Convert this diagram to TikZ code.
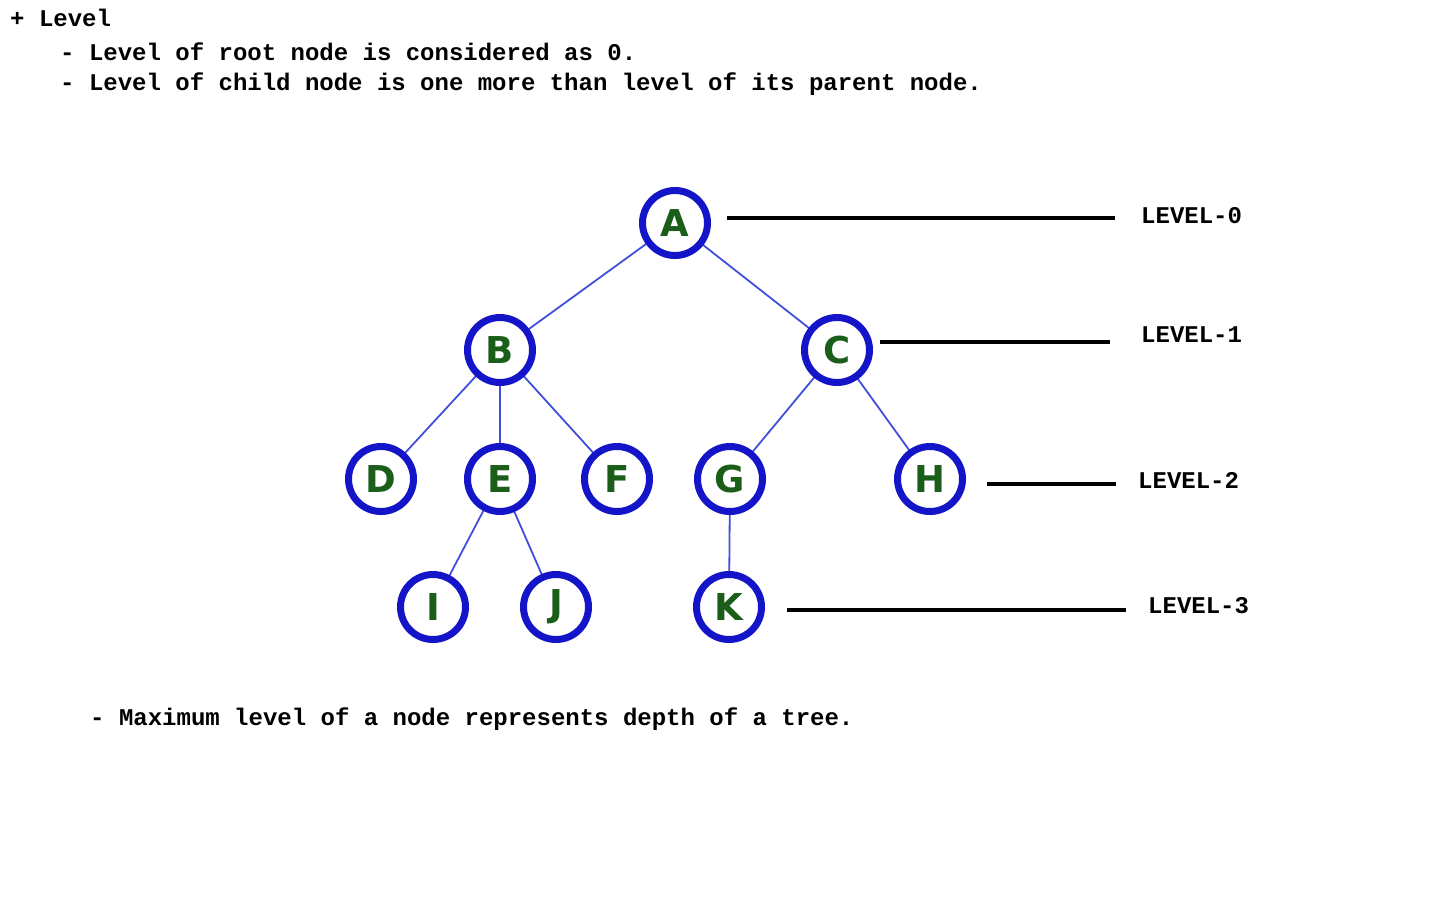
\documentclass[tikz,border=0pt]{standalone}
\usepackage{fontspec}
\setmonofont{Liberation Mono}
\newfontfamily\nodefont{DejaVu Sans}
\definecolor{ringblue}{HTML}{1414C8}
\definecolor{edgeblue}{HTML}{4050DC}
\definecolor{lettergreen}{HTML}{1A5E1A}
\begin{document}
\begin{tikzpicture}[x=1pt,y=-1pt,
  tnode/.style={circle,draw=ringblue,line width=7pt,minimum size=65pt,inner sep=0pt,fill=white,
    font=\nodefont\bfseries\fontsize{37}{37}\selectfont,text=lettergreen},
  tedge/.style={draw=edgeblue,line width=1.8pt},
  lvline/.style={draw=black,line width=4pt},
  txt/.style={anchor=base west,inner sep=0pt,font=\ttfamily\bfseries\fontsize{24}{24}\selectfont},
  lvtxt/.style={anchor=west,inner sep=0pt,font=\ttfamily\bfseries\fontsize{24}{24}\selectfont}]
\useasboundingbox (0,0) rectangle (1440,900);
% texts
\node[txt] (t1) at (10,26) {+ Level};
\node[txt] (t2) at (60,60) {- Level of root node is considered as 0.};
\node[txt] (t3) at (60,90) {- Level of child node is one more than level of its parent node.};
\node[txt] (t4) at (90,725) {- Maximum level of a node represents depth of a tree.};
% edges first (nodes drawn on top)
\coordinate (pA) at (675,223);
\coordinate (pB) at (500,350);
\coordinate (pC) at (837,350);
\coordinate (pD) at (381,479);
\coordinate (pE) at (500,479);
\coordinate (pF) at (617,479);
\coordinate (pG) at (730,479);
\coordinate (pH) at (930,479);
\coordinate (pI) at (433,607);
\coordinate (pJ) at (556,607);
\coordinate (pK) at (729,607);
\foreach \a/\b in {A/B,A/C,B/D,B/E,B/F,C/G,C/H,E/I,E/J,G/K}
  \draw[tedge] (p\a) -- (p\b);
\foreach \n in {A,B,C,D,E,F,G,H,I,J,K}
  \node[tnode] (\n) at (p\n) {\n};
% level lines
\coordinate (l0a) at (727,218); \coordinate (l0b) at (1115,218);
\coordinate (l1a) at (880,342); \coordinate (l1b) at (1110,342);
\coordinate (l2a) at (987,484); \coordinate (l2b) at (1116,484);
\coordinate (l3a) at (787,610); \coordinate (l3b) at (1126,610);
\draw[lvline] (l0a) -- (l0b);
\draw[lvline] (l1a) -- (l1b);
\draw[lvline] (l2a) -- (l2b);
\draw[lvline] (l3a) -- (l3b);
\node[lvtxt] (L0) at (1141,216) {LEVEL-0};
\node[lvtxt] (L1) at (1141,335) {LEVEL-1};
\node[lvtxt] (L2) at (1138,480) {LEVEL-2};
\node[lvtxt] (L3) at (1148,606) {LEVEL-3};
\end{tikzpicture}
\end{document}
